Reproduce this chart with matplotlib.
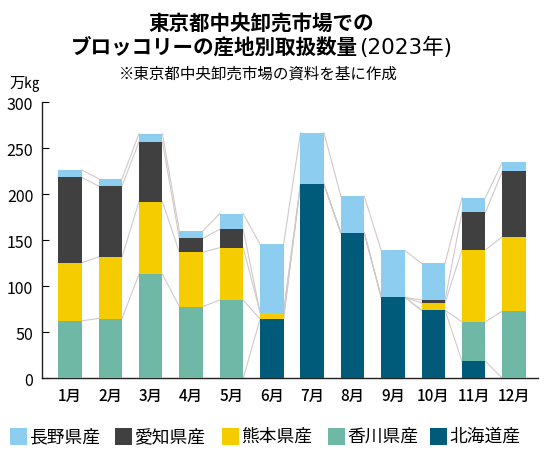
import matplotlib
matplotlib.use("Agg")
import matplotlib.pyplot as plt
from matplotlib.patches import Rectangle
import numpy as np

plt.rcParams['font.family'] = ['Noto Sans CJK JP', 'DejaVu Sans']

months = ["1月", "2月", "3月", "4月", "5月", "6月", "7月", "8月", "9月", "10月", "11月", "12月"]
# stacked from bottom to top
hokkaido = [0, 0, 0, 0, 0, 64.5, 211, 158, 88, 74, 18.5, 0]
kagawa   = [62.5, 65, 113, 78, 85, 0, 0, 0, 0, 0, 43, 73]
kumamoto = [63, 67, 79, 59, 57, 7, 0, 0, 0, 8, 78, 81]
aichi    = [93, 77, 65, 15, 20, 0, 0, 0, 0, 3, 41, 71]
nagano   = [8, 8, 9, 8, 17, 74, 56, 40, 51, 40, 16, 10]

series_names = ["北海道産", "香川県産", "熊本県産", "愛知県産", "長野県産"]
series_vals = [hokkaido, kagawa, kumamoto, aichi, nagano]
colors = ["#005b7a", "#6fb8a5", "#f5cc00", "#404040", "#8dcdf0"]
legend_order = ["長野県産", "愛知県産", "熊本県産", "香川県産", "北海道産"]
yticks = [0, 50, 100, 150, 200, 250, 300]

fig = plt.figure(figsize=(5.5, 4.6), dpi=100)
ax = fig.add_axes([0.0758, 0.1754, 0.9022, 0.6])

x = np.arange(len(months))
w = 0.58
bottom = np.zeros(len(months))
tops = []
for vals, c in zip(series_vals, colors):
    v = np.array(vals, dtype=float)
    ax.bar(x, v, w, bottom=bottom, color=c, zorder=3, linewidth=0)
    bottom = bottom + v
    tops.append(bottom.copy())

# connector lines between cumulative levels
for lvl in tops:
    for i in range(len(months) - 1):
        ax.plot([x[i] + w / 2, x[i + 1] - w / 2], [lvl[i], lvl[i + 1]],
                color="#d3c8c8", lw=0.8, zorder=2)

ax.set_xlim(-0.70, 11.59)
ax.set_ylim(0, 300)
ax.set_yticks(yticks)
ax.set_yticklabels([str(t) for t in yticks], fontsize=11.5)
ax.set_xticks(x)
ax.set_xticklabels(months, fontsize=11, fontweight='medium')
ax.tick_params(axis='y', direction='in', length=5, width=0.8, pad=6)
ax.tick_params(axis='x', length=0, pad=6)
for s in ["top", "right"]:
    ax.spines[s].set_visible(False)
for s in ["left", "bottom"]:
    ax.spines[s].set_linewidth(1.0)
    ax.spines[s].set_color("#222222")

fig.text(0.475, 0.948, "東京都中央卸売市場での", ha='center', va='center',
         fontsize=14.8, fontweight='bold')
fig.text(358 / 550, 0.898, "ブロッコリーの産地別取扱数量", ha='right', va='center',
         fontsize=14.8, fontweight='bold')
fig.text(359 / 550, 0.898, "(2023年)", ha='left', va='center',
         fontsize=15.5, fontweight='normal', family=['DejaVu Sans', 'Noto Sans CJK JP'])
fig.text(0.469, 0.838, "※東京都中央卸売市場の資料を基に作成", ha='center', va='center',
         fontsize=11.2)
fig.text(0.018, 0.82, "万㎏", ha='left', va='center', fontsize=11)

# legend
leg_x = [10, 115, 222, 328, 430]
for lx, name in zip(leg_x, legend_order):
    c = colors[series_names.index(name)]
    fig.add_artist(Rectangle((lx / 550, (460 - 446) / 460), 17 / 550, 17 / 460,
                             transform=fig.transFigure, color=c, linewidth=0))
    fig.text((lx + 19) / 550, (460 - 437) / 460, name, ha='left', va='center',
             fontsize=12.8)

fig.savefig("out.png", dpi=100)
